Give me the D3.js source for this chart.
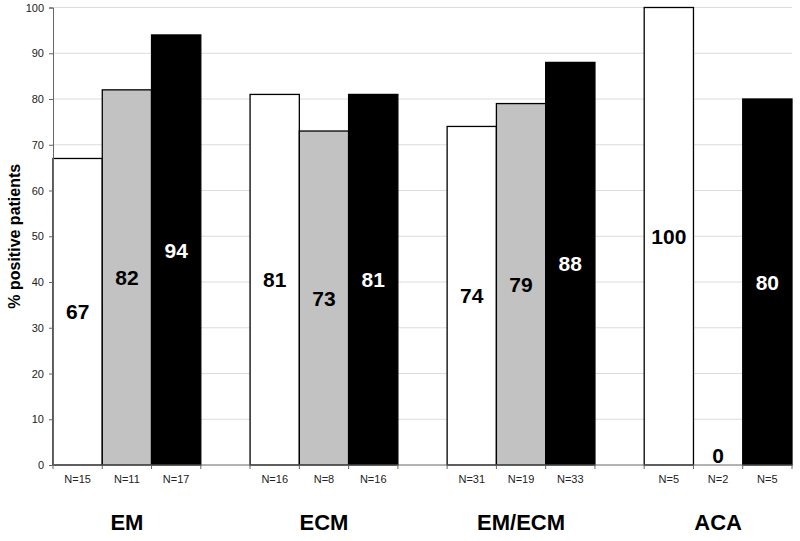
<!DOCTYPE html>
<html>
<head>
<meta charset="utf-8">
<script src="https://cdn.jsdelivr.net/npm/d3@7"></script>
<style>
  html, body { margin: 0; padding: 0; background: #fff; }
  svg { display: block; font-family: Arial, "Liberation Sans", sans-serif; }
</style>
</head>
<body>
<svg id="chart" width="800" height="541"></svg>
<script>
// ---- data ----
const categories = ["EM", "ECM", "EM/ECM", "ACA"];
const seriesNames = ["white", "gray", "black"];
const whiteValues = [67, 81, 74, 100];
const grayValues  = [82, 73, 79, 0];
const blackValues = [94, 81, 88, 80];
const whiteN = [15, 16, 31, 5];
const grayN  = [11, 8, 19, 2];
const blackN = [17, 16, 33, 5];
const yTicks = [0, 10, 20, 30, 40, 50, 60, 70, 80, 90, 100];
const yLabel = "% positive patients";

// ---- build slots ----
const seriesValues = [whiteValues, grayValues, blackValues];
const seriesN = [whiteN, grayN, blackN];
const fills = { white: "#ffffff", gray: "#c2c2c2", black: "#000000" };
const labelColors = { white: "#000", gray: "#000", black: "#fff" };

const slots = [];
const bars = [];
categories.forEach((c, ci) => {
  seriesNames.forEach((s, si) => {
    const key = c + "|" + s;
    slots.push(key);
    bars.push({ key, cat: c, series: s, value: seriesValues[si][ci], n: seriesN[si][ci] });
  });
  if (ci < categories.length - 1) slots.push("gap" + ci);
});

const svg = d3.select("#chart");
const x0 = 53, x1 = 792, yTop = 7.5, yBot = 465;

const x = d3.scaleBand().domain(slots).range([x0, x1]).padding(0);
const y = d3.scaleLinear().domain([0, 100]).range([yBot, yTop]);

// gridlines
svg.append("g").selectAll("line").data(yTicks.filter(d => d > 0)).join("line")
  .attr("x1", x0).attr("x2", x1)
  .attr("y1", d => y(d)).attr("y2", d => y(d))
  .attr("stroke", "#dcdcdc").attr("stroke-width", 1);

// bars
svg.append("g").selectAll("rect").data(bars).join("rect")
  .attr("x", d => x(d.key))
  .attr("y", d => y(d.value))
  .attr("width", x.bandwidth())
  .attr("height", d => yBot - y(d.value))
  .attr("fill", d => fills[d.series])
  .attr("stroke", "#000").attr("stroke-width", 1.3);

// y axis
const yAxis = d3.axisLeft(y).tickValues(yTicks).tickSize(4).tickPadding(5);
const gy = svg.append("g").attr("transform", `translate(${x0},0)`).call(yAxis);
gy.select(".domain").attr("stroke", "#666");
gy.selectAll(".tick line").attr("stroke", "#666");
gy.selectAll(".tick text").attr("font-size", 11).attr("fill", "#222")
  .attr("font-family", "Arial, 'Liberation Sans', sans-serif");

// x axis line + ticks at slot boundaries
const boundaries = slots.map(s => x(s)).concat([x1]);
svg.append("line").attr("x1", x0).attr("x2", x1).attr("y1", yBot).attr("y2", yBot)
  .attr("stroke", "#666").attr("stroke-width", 1);
svg.append("g").selectAll("line").data(boundaries).join("line")
  .attr("x1", d => d).attr("x2", d => d)
  .attr("y1", yBot).attr("y2", yBot + 4)
  .attr("stroke", "#666");

// N labels
svg.append("g").selectAll("text").data(bars).join("text")
  .attr("x", d => x(d.key) + x.bandwidth() / 2)
  .attr("y", 483)
  .attr("text-anchor", "middle")
  .attr("font-size", 11).attr("fill", "#222")
  .text(d => "N=" + d.n);

// value labels
svg.append("g").selectAll("text").data(bars).join("text")
  .attr("x", d => x(d.key) + x.bandwidth() / 2)
  .attr("y", d => d.value === 0 ? yBot - 10 : (y(d.value) + yBot) / 2)
  .attr("dy", "0.36em")
  .attr("text-anchor", "middle")
  .attr("font-size", 21).attr("font-weight", "bold")
  .attr("fill", d => d.value === 0 ? "#000" : labelColors[d.series])
  .text(d => d.value);

// category labels
svg.append("g").selectAll("text").data(categories).join("text")
  .attr("x", c => x(c + "|gray") + x.bandwidth() / 2)
  .attr("y", 530)
  .attr("text-anchor", "middle")
  .attr("font-size", 22).attr("font-weight", "bold").attr("fill", "#000")
  .text(c => c);

// y axis title
svg.append("text")
  .attr("transform", `translate(20,${(yTop + yBot) / 2}) rotate(-90)`)
  .attr("text-anchor", "middle")
  .attr("font-size", 16).attr("font-weight", "bold").attr("fill", "#000")
  .text(yLabel);
</script>
</body>
</html>
